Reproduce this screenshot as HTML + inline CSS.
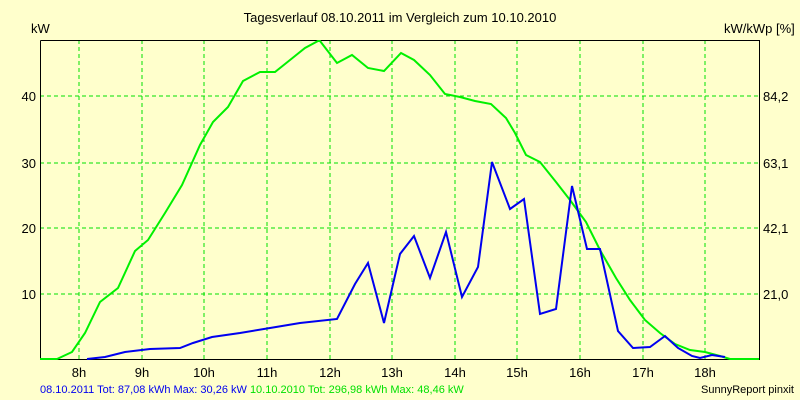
<!DOCTYPE html>
<html><head><meta charset="utf-8"><style>
body{margin:0;background:#FFFFCC;}
svg{display:block;font-family:"Liberation Sans",sans-serif;}
</style></head><body>
<svg width="800" height="400" xmlns="http://www.w3.org/2000/svg">
<rect width="800" height="400" fill="#FFFFCC"/>
<text x="400" y="22" font-size="13" text-anchor="middle" fill="#000">Tagesverlauf 08.10.2011 im Vergleich zum 10.10.2010</text>
<text x="31" y="33" font-size="13" fill="#000">kW</text>
<text x="724" y="33" font-size="13" fill="#000">kW/kWp [%]</text>
<g stroke="#00E000" stroke-width="1" stroke-dasharray="4,3">
<line x1="79" y1="40" x2="79" y2="359"/><line x1="142" y1="40" x2="142" y2="359"/><line x1="204" y1="40" x2="204" y2="359"/><line x1="267" y1="40" x2="267" y2="359"/><line x1="330" y1="40" x2="330" y2="359"/><line x1="392" y1="40" x2="392" y2="359"/><line x1="455" y1="40" x2="455" y2="359"/><line x1="517" y1="40" x2="517" y2="359"/><line x1="580" y1="40" x2="580" y2="359"/><line x1="643" y1="40" x2="643" y2="359"/><line x1="705" y1="40" x2="705" y2="359"/>
<line x1="40" y1="96" x2="759" y2="96"/><line x1="40" y1="163" x2="759" y2="163"/><line x1="40" y1="228" x2="759" y2="228"/><line x1="40" y1="294" x2="759" y2="294"/>
</g>
<g stroke="#000" stroke-width="1" fill="none">
<polyline points="40.5,40.5 759.5,40.5 759.5,359.5 40.5,359.5 40.5,40.5"/>
</g>
<g font-size="13" fill="#000" text-anchor="end">
<text x="36" y="101">40</text><text x="36" y="168">30</text><text x="36" y="233">20</text><text x="36" y="299">10</text>
</g>
<g font-size="13" fill="#000">
<text x="763" y="101">84,2</text><text x="763" y="168">63,1</text><text x="763" y="233">42,1</text><text x="763" y="299">21,0</text>
</g>
<g font-size="13" fill="#000" text-anchor="middle">
<text x="79" y="377">8h</text><text x="142" y="377">9h</text><text x="204" y="377">10h</text><text x="267" y="377">11h</text><text x="330" y="377">12h</text><text x="392" y="377">13h</text><text x="455" y="377">14h</text><text x="517" y="377">15h</text><text x="580" y="377">16h</text><text x="643" y="377">17h</text><text x="705" y="377">18h</text>
</g>
<polyline fill="none" stroke="#00F000" stroke-width="2" points="40,359 57,359 72,352 85,333 100,302 118,288 135,251 148,240 165,213 182,185 200,145 213,122 228,107 243,81 260,72 275,72 290,60 305,48 318,41 320,41 337,63 352,55 368,68 384,71 401,53 414,60 430,75 445,94 460,97 475,101 491,104 506,118 515,133 526,155 540,162 556,182 570,200 586,222 600,250 616,278 630,300 645,320 660,333 675,344 690,350 705,352 720,356 730,359 759,359"/>
<polyline fill="none" stroke="#0000F0" stroke-width="2" points="87,359 105,357 125,352 150,349 180,348 193,343 212,337 240,333 270,328 300,323 337,319 355,284 368,263 384,323 400,254 414,236 430,278 446,232 462,297 478,267 492,162 510,209 524,199 540,314 556,309 572,186 587,249 600,249 618,331 633,348 650,347 665,336 678,348 692,356 700,358 712,355 725,357"/>
<text x="40" y="393" font-size="11" fill="#0000F0">08.10.2011 Tot: 87,08 kWh Max: 30,26 kW <tspan fill="#00E000">10.10.2010 Tot: 296,98 kWh Max: 48,46 kW</tspan></text>
<text x="794" y="393" font-size="11" fill="#000" text-anchor="end">SunnyReport pinxit</text>
</svg>
</body></html>
